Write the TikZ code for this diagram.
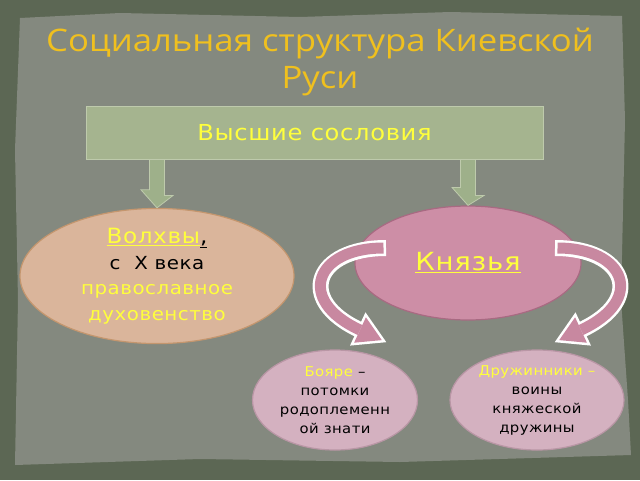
\documentclass[tikz,border=0pt]{standalone}
\usepackage{fontspec}
\setmainfont{DejaVu Sans}[FakeStretch=1.1, LetterSpace=3]
\newfontfamily\titlefont{Open Sans}[FakeStretch=1.12]
\usetikzlibrary{shapes.geometric}
\definecolor{outerbg}{RGB}{92,103,84}
\definecolor{paper}{RGB}{132,137,127}
\definecolor{titlecol}{RGB}{240,192,30}
\definecolor{yel}{RGB}{255,255,60}
\definecolor{boxfill}{RGB}{165,180,143}
\definecolor{boxline}{RGB}{190,202,172}
\definecolor{arrgreen}{RGB}{158,176,138}
\definecolor{peach}{RGB}{218,181,155}
\definecolor{peachline}{RGB}{196,150,110}
\definecolor{pinkA}{RGB}{205,142,166}
\definecolor{pinkAline}{RGB}{168,106,130}
\definecolor{pinkB}{RGB}{212,177,192}
\definecolor{pinkBline}{RGB}{185,150,165}
\definecolor{arrpink}{RGB}{200,136,160}
\tikzset{
  ell/.style={ellipse, inner sep=0pt, align=center, line width=1.2pt},
  blockarrow/.style={fill=arrgreen, draw=boxline, line width=0.8pt},
}
\begin{document}
\begin{tikzpicture}[x=1pt,y=-1pt]
\useasboundingbox (0,0) rectangle (640,480);
\fill[outerbg] (0,0) rectangle (640,480);
\fill[paper] (20,18) -- (120,13) -- (300,17) -- (450,12) -- (622,16) -- (625,120) -- (621,300) -- (628,400) -- (631,455) -- (400,462) -- (200,459) -- (15,465) -- (18,300) -- (15,150) -- cycle;

% title
\node[text=titlecol, font=\titlefont\fontsize{31}{37}\selectfont, align=center] (title) at (320,62) {Социальная структура Киевской\\Руси};

% top box
\node[draw=boxline, fill=boxfill, line width=1pt, minimum width=457pt, minimum height=53pt, text=yel, font=\fontsize{22}{24}\selectfont] (top) at (314.5,132.5) {Высшие сословия};

% ellipses
\node[ell, fill=peach, draw=peachline, minimum width=274pt, minimum height=126pt, font=\fontsize{18}{25.5}\selectfont] (volhvy) at (157,276)
 {{\fontsize{21}{25.5}\selectfont\textcolor{yel}{\underline{Волхвы}}\underline{,}}\\с~~Х века\\\textcolor{yel}{православное}\\\textcolor{yel}{духовенство}};
\node[ell, fill=pinkA, draw=pinkAline, minimum width=226pt, minimum height=114pt, font=\fontsize{25}{28}\selectfont, text=yel] (knyaz) at (468,263) {\underline{Князья}};
\node[ell, fill=pinkB, draw=pinkBline, minimum width=165pt, minimum height=100pt, font=\fontsize{13.5}{19}\selectfont] (boyare) at (335,400)
 {\textcolor{yel}{Бояре} –\\потомки\\родоплеменн\\ой знати};
\node[ell, fill=pinkB, draw=pinkBline, minimum width=174pt, minimum height=100pt, font=\fontsize{13.5}{19}\selectfont] (druzh) at (537,400)
 {\textcolor{yel}{Дружинники –}\\воины\\княжеской\\дружины};

% green block arrows
\draw[blockarrow] (top.south -| volhvy.north) ++(-7.5,0) -- ++(15,0) -- ++(0,36) -- ++(8.5,0) -- (volhvy.north) -- ++(-16,-18) -- ++(8.5,0) -- cycle;
\draw[blockarrow] (top.south -| knyaz.north) ++(-7.5,0) -- ++(15,0) -- ++(0,36) -- ++(8.5,0) -- (knyaz.north) -- ++(-16,-18) -- ++(8.5,0) -- cycle;

% curved arrows
\coordinate (lS) at (386,248);
\coordinate (lE) at (360,330);
\fill[white, draw=white, line width=5pt, line join=miter] (354.1,342.7) -- (381.8,340.1) -- (365.9,317.3) -- cycle;
\draw[white, line width=16pt] (lS) .. controls (315,248) and (295,300) .. (lE);
\draw[arrpink, line width=11pt, shorten <=2.5pt] (lS) .. controls (315,248) and (295,300) .. (lE);
\fill[arrpink] (354.1,342.7) -- (381.8,340.1) -- (365.9,317.3) -- cycle;

\coordinate (rS) at (555,248);
\coordinate (rE) at (581,330);
\fill[white, draw=white, line width=5pt, line join=miter] (586.9,342.7) -- (559.2,340.1) -- (575.1,317.3) -- cycle;
\draw[white, line width=16pt] (rS) .. controls (626,248) and (646,300) .. (rE);
\draw[arrpink, line width=11pt, shorten <=2.5pt] (rS) .. controls (626,248) and (646,300) .. (rE);
\fill[arrpink] (586.9,342.7) -- (559.2,340.1) -- (575.1,317.3) -- cycle;
\end{tikzpicture}
\end{document}
